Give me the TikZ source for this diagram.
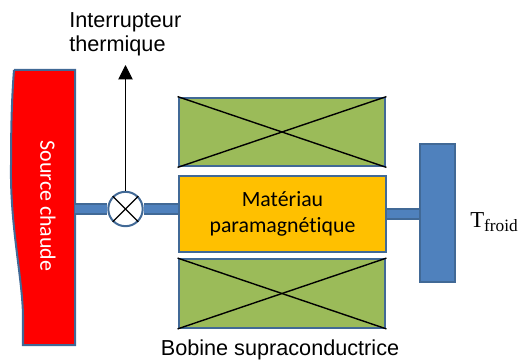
\documentclass[tikz,border=0pt]{standalone}
\usepackage{fontspec}
\setmainfont{Liberation Sans}
\newfontfamily\calibrifont[Ligatures=NoCommon]{Carlito}
\newfontfamily\cambriafont{Liberation Serif}
\usetikzlibrary{arrows.meta}
\definecolor{edgeblue}{RGB}{65,105,150}
\definecolor{fillblue}{RGB}{79,129,189}
\definecolor{coilgreen}{RGB}{155,187,89}
\definecolor{matorange}{RGB}{255,192,0}
\tikzset{
  boxed/.style={rectangle, draw=edgeblue, line width=0.05cm, inner sep=0pt},
  coil/.style={boxed, fill=coilgreen, minimum width=5.17cm, minimum height=1.72cm},
  pipe/.style={draw=edgeblue, double=fillblue, double distance=0.2cm, line width=0.04cm},
  label/.style={font=\fontsize{15.4}{17.6}\selectfont, align=left, inner sep=0pt},
  crossline/.style={line width=0.035cm},
}
\begin{document}
\begin{tikzpicture}[x=0.025cm, y=-0.025cm]
    \useasboundingbox (0,0) rectangle (520,360);

    % Source
    \draw[draw=edgeblue, line width=0.05cm, fill=red] (14,70) -- (75,70) -- (75,345) -- (23,345) -- (23,315)
      .. controls (22,275) and (10,225) .. (11,165) .. controls (11,125) and (12,95) .. (14,70);
    \node[rotate=-90, text=white, font=\calibrifont\fontsize{15.6}{18}\selectfont] (source) at (48,206) {Source chaude};
    \coordinate (sourceedge) at (75,209);

    % Nodes
    \node[boxed, fill=matorange, minimum width=5.17cm, minimum height=1.9cm, align=center,
      font=\calibrifont\fontsize{15.5}{19}\selectfont] (material) at (282.5,214) {Matériau\\paramagnétique};
    \node[coil] (coiltop) at (282,132) {};
    \node[coil] (coilbottom) at (282,293.5) {};
    \node[boxed, fill=fillblue, minimum width=0.86cm, minimum height=3.44cm] (sink) at (437.5,213) {};
    \node[circle, draw=edgeblue, line width=0.05cm, fill=white, minimum size=0.86cm, inner sep=0pt] (switch) at (125.5,209) {};

    % Pipes
    \draw[pipe] (sourceedge) -- (switch.west);
    \draw[pipe] (switch.east) -- (switch -| material.west);
    \draw[pipe] (material.east) -- (material -| sink.west);

    % Crosses
    \draw[crossline] (coiltop.north west) -- (coiltop.south east);
    \draw[crossline] (coiltop.south west) -- (coiltop.north east);
    \draw[crossline] (coilbottom.north west) -- (coilbottom.south east);
    \draw[crossline] (coilbottom.south west) -- (coilbottom.north east);
    \draw[crossline] (switch.north west) -- (switch.south east);
    \draw[crossline] (switch.south west) -- (switch.north east);

    % Arrow
    \coordinate (arrowend) at (125.5,65);
    \draw[-{Triangle[length=0.36cm, width=0.36cm]}, line width=0.025cm] (switch.north) -- (arrowend);

    % Labels
    \node[label, anchor=base west] (switchlabel) at (69,52) {Interrupteur\\thermique};
    \node[label, anchor=base] (coillabel) at (280,355.5) {Bobine supraconductrice};
    \node[anchor=base west, inner sep=0pt, font=\cambriafont\fontsize{16.2}{18}\selectfont] (coldlabel) at (470,228)
      {T\raisebox{-0.3ex}{\fontsize{12.3}{14}\selectfont froid}};
\end{tikzpicture}
\end{document}
